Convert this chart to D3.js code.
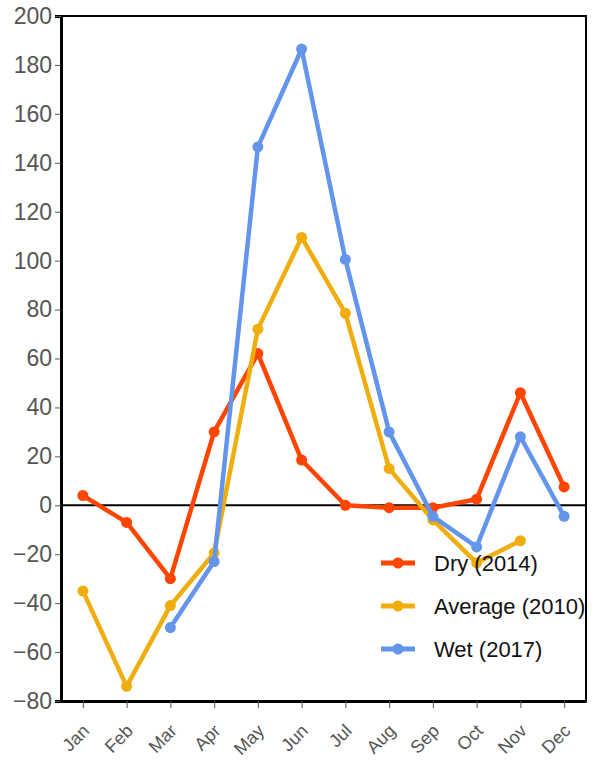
<!DOCTYPE html>
<html lang="en">
<head>
  <meta charset="UTF-8">
  <title>Monthly anomalies</title>
  <script src="https://cdn.jsdelivr.net/npm/d3@7"></script>
  <style>
    body { margin: 0; background: #fff; }
    .tick text { fill: #555; font-family: "Liberation Sans", Arial, sans-serif; }
    .tick line { stroke: #555; }
    .legend text { font-family: "Liberation Sans", Arial, sans-serif; font-size: 22px; fill: #111; }
  </style>
</head>
<body>
  <div id="chart"></div>
  <script>
    const months = ["Jan", "Feb", "Mar", "Apr", "May", "Jun", "Jul", "Aug", "Sep", "Oct", "Nov", "Dec"];
    const yTicks = [-80, -60, -40, -20, 0, 20, 40, 60, 80, 100, 120, 140, 160, 180, 200];

    const dry2014 = [4, -7, -30, 30, 62, 18.5, 0, -1, -1, 2.5, 46, 7.5];
    const avg2010 = [-35, -74, -41, -19.5, 72, 109.5, 78.5, 15, -6, -23.5, -14.5, null];
    const wet2017 = [null, null, -50, -23, 146.5, 186.5, 100.5, 30, -4.5, -17, 28, -4.5];

    const seriesNames = ["Dry (2014)", "Average (2010)", "Wet (2017)"];
    const seriesColors = ["#ff4500", "#f0ad0e", "#6495ed"];
    const series = [dry2014, avg2010, wet2017];

    const w = 597, h = 760;
    const margin = { top: 16, right: 11, bottom: 59, left: 61 };

    const svg = d3.select("#chart").append("svg")
      .attr("width", w)
      .attr("height", h);

    const x = d3.scalePoint()
      .domain(months)
      .range([margin.left, w - margin.right])
      .padding(0.5);

    const y = d3.scaleLinear()
      .domain([-80, 200])
      .range([h - margin.bottom, margin.top]);

    // frame top / right
    svg.append("rect")
      .attr("x", margin.left)
      .attr("y", margin.top)
      .attr("width", w - margin.right - margin.left)
      .attr("height", h - margin.bottom - margin.top)
      .attr("fill", "none")
      .attr("stroke", "#000")
      .attr("stroke-width", 2);

    // zero line
    svg.append("line")
      .attr("x1", margin.left)
      .attr("x2", w - margin.right)
      .attr("y1", y(0))
      .attr("y2", y(0))
      .attr("stroke", "#000")
      .attr("stroke-width", 2);

    const yAxis = svg.append("g")
      .attr("transform", "translate(" + margin.left + ",0)")
      .call(d3.axisLeft(y).tickValues(yTicks).tickFormat(d => d < 0 ? "\u2212" + Math.abs(d) : d).tickSize(6).tickPadding(3));
    yAxis.select(".domain").attr("stroke", "#000").attr("stroke-width", 3);
    yAxis.selectAll(".tick text").attr("font-size", 23);

    const xAxis = svg.append("g")
      .attr("transform", "translate(0," + (h - margin.bottom) + ")")
      .call(d3.axisBottom(x).tickSize(7).tickSizeOuter(0));
    xAxis.select(".domain").attr("stroke", "#000").attr("stroke-width", 3);
    xAxis.selectAll(".tick text")
      .attr("font-size", 18)
      .attr("text-anchor", "end")
      .attr("x", 0)
      .attr("y", 0)
      .attr("dy", 0)
      .attr("transform", "translate(7,31) rotate(-45)");

    const line = d3.line()
      .defined(d => d.v !== null)
      .x(d => x(d.m))
      .y(d => y(d.v));

    series.forEach((vals, i) => {
      const pts = vals.map((v, j) => ({ m: months[j], v: v }));
      svg.append("path")
        .datum(pts)
        .attr("d", line)
        .attr("fill", "none")
        .attr("stroke", seriesColors[i])
        .attr("stroke-width", 4.5)
        .attr("stroke-linejoin", "round");
      svg.selectAll(".pt" + i)
        .data(pts.filter(d => d.v !== null))
        .enter()
        .append("circle")
        .attr("class", "pt" + i)
        .attr("cx", d => x(d.m))
        .attr("cy", d => y(d.v))
        .attr("r", 5.5)
        .attr("fill", seriesColors[i]);
    });

    const legend = svg.append("g").attr("class", "legend");
    seriesNames.forEach((name, i) => {
      const ly = 563 + i * 43;
      legend.append("line")
        .attr("x1", 381).attr("x2", 415)
        .attr("y1", ly).attr("y2", ly)
        .attr("stroke", seriesColors[i])
        .attr("stroke-width", 5);
      legend.append("circle")
        .attr("cx", 398).attr("cy", ly).attr("r", 5.5)
        .attr("fill", seriesColors[i]);
      legend.append("text")
        .attr("x", 434).attr("y", ly)
        .attr("dy", "0.36em")
        .text(name);
    });
  </script>
</body>
</html>
